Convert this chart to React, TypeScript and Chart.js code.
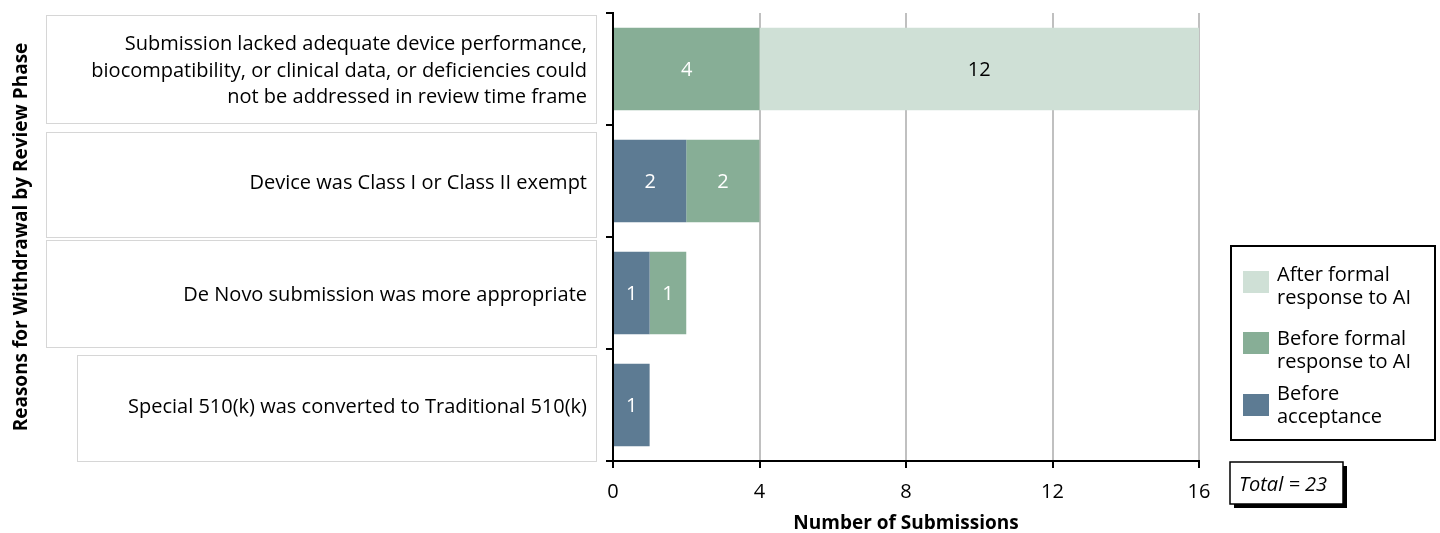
import React, { useEffect, useRef } from "react";
import { Chart, registerables } from "chart.js";

Chart.register(...registerables);

// ---------- data ----------
const categories: string[][] = [
  [
    "Submission lacked adequate device performance,",
    "biocompatibility, or clinical data, or deficiencies could",
    "not be addressed in review time frame",
  ],
  ["Device was Class I or Class II exempt"],
  ["De Novo submission was more appropriate"],
  ["Special 510(k) was converted to Traditional 510(k)"],
];
const seriesNames = [
  "Before acceptance",
  "Before formal response to AI",
  "After formal response to AI",
];
const beforeAcceptance = [0, 2, 1, 1];
const beforeFormalResponse = [4, 2, 1, 0];
const afterFormalResponse = [12, 0, 0, 0];
const legendLines: string[][] = [
  ["Before", "acceptance"],
  ["Before formal", "response to AI"],
  ["After formal", "response to AI"],
];
const xMin = 0;
const xMax = 16;
const xStep = 4;
const xTitle = "Number of Submissions";
const yTitle = "Reasons for Withdrawal by Review Phase";
const totalLabel = "Total = 23";

// ---------- style ----------
const FONT = "'Open Sans'";
const FS = 20;
const TITLE_FS = 19;
const colors = ["#5d7b93", "#87ae96", "#cfe0d6"];
const labelColors = ["#ffffff", "#ffffff", "#000000"];
const boxLeft = [46, 46, 46, 77];
const boxTopInset = [2, 7, 3, 6];
const boxBottomInset = [2, 0, 2, 0];

const overlayPlugin = {
  id: "overlay",
  beforeDraw(chart: any) {
    const { ctx } = chart;
    const y = chart.scales.y;
    const n = chart.data.labels.length;
    ctx.save();
    ctx.strokeStyle = "#d6d6d6";
    ctx.lineWidth = 1;
    const half = (y.getPixelForValue(1) - y.getPixelForValue(0)) / 2;
    for (let i = 0; i < n; i++) {
      const c = y.getPixelForValue(i);
      const top = Math.round(c - half + boxTopInset[i]);
      const bot = Math.round(c + half - boxBottomInset[i]);
      ctx.fillStyle = "#ffffff";
      ctx.fillRect(boxLeft[i] + 0.5, top + 0.5, 596 - boxLeft[i], bot - top);
      ctx.strokeRect(boxLeft[i] + 0.5, top + 0.5, 596 - boxLeft[i], bot - top);
    }
    ctx.restore();
  },
  afterDatasetsDraw(chart: any) {
    const { ctx } = chart;
    ctx.save();
    ctx.font = `${FS}px ${FONT}`;
    ctx.textAlign = "center";
    ctx.textBaseline = "middle";
    chart.data.datasets.forEach((ds: any, di: number) => {
      const meta = chart.getDatasetMeta(di);
      meta.data.forEach((el: any, i: number) => {
        const v = ds.data[i];
        if (!v) return;
        ctx.fillStyle = labelColors[di];
        ctx.fillText(String(v), (el.x + el.base) / 2, el.y + 1);
      });
    });
    ctx.restore();
  },
  afterDraw(chart: any) {
    const { ctx } = chart;
    ctx.save();
    // legend box
    ctx.strokeStyle = "#000";
    ctx.lineWidth = 2;
    ctx.strokeRect(1231, 246, 204, 194);
    const order = [2, 1, 0];
    const swTop = [271, 332, 394];
    const textTop = [275, 339, 394];
    ctx.font = `${FS}px ${FONT}`;
    ctx.textBaseline = "middle";
    ctx.textAlign = "left";
    order.forEach((di, k) => {
      const ds = chart.data.datasets[di];
      ctx.fillStyle = ds.backgroundColor;
      ctx.fillRect(1243, swTop[k], 26, 22);
      ctx.fillStyle = "#000";
      const lines = legendLines[di];
      lines.forEach((t, li) => ctx.fillText(t, 1277, textTop[k] + li * 23));
    });
    // total box with shadow
    ctx.fillStyle = "#000";
    ctx.fillRect(1234, 466, 113, 42);
    ctx.fillStyle = "#fff";
    ctx.fillRect(1230, 462, 113, 42);
    ctx.lineWidth = 1.5;
    ctx.strokeRect(1230, 462, 113, 42);
    ctx.fillStyle = "#000";
    ctx.font = `italic ${FS}px ${FONT}`;
    ctx.fillText(totalLabel, 1239, 485);
    ctx.restore();
  },
};

export default function App() {
  const ref = useRef<HTMLCanvasElement | null>(null);
  useEffect(() => {
    if (!ref.current) return;
    const data = [beforeAcceptance, beforeFormalResponse, afterFormalResponse];
    const chart = new Chart(ref.current, {
      type: "bar",
      data: {
        labels: categories,
        datasets: seriesNames.map((name, i) => ({
          label: name,
          data: data[i],
          backgroundColor: colors[i],
          borderWidth: 0,
          categoryPercentage: 1,
          barPercentage: 0.735,
        })),
      },
      options: {
        indexAxis: "y",
        animation: false,
        responsive: false,
        maintainAspectRatio: false,
        layout: { padding: { left: 0, top: 13, right: 241, bottom: 0 } },
        plugins: {
          legend: { display: false },
          tooltip: { enabled: false },
        },
        scales: {
          x: {
            stacked: true,
            min: xMin,
            max: xMax,
            afterFit: (s: any) => {
              s.height = 72;
              s.paddingLeft = 0;
              s.paddingRight = 0;
            },
            ticks: {
              stepSize: xStep,
              color: "#000",
              padding: 12,
              font: { family: FONT, size: FS },
            },
            grid: {
              color: (c: any) => (c.tick && c.tick.value === 0 ? "rgba(0,0,0,0)" : "#c0c0c0"),
              lineWidth: 2,
              tickColor: "#000",
              tickLength: 7,
            },
            border: { display: true, color: "#000", width: 2 },
            title: {
              display: true,
              text: xTitle,
              color: "#000",
              padding: { top: 0, bottom: -2 },
              font: { family: FONT, size: TITLE_FS, weight: "bold" },
            },
          },
          y: {
            stacked: true,
            afterFit: (s: any) => {
              s.width = 613;
              s.paddingTop = 0;
              s.paddingBottom = 0;
            },
            ticks: {
              color: "#000",
              padding: 19,
              labelOffset: 2,
              font: { family: FONT, size: FS, lineHeight: 1.33 },
            },
            grid: {
              offset: true,
              drawOnChartArea: false,
              tickColor: "#000",
              tickLength: 7,
              lineWidth: 2,
            },
            border: { display: true, color: "#000", width: 2 },
            title: {
              display: true,
              text: yTitle,
              color: "#000",
              padding: { top: 10, bottom: 0 },
              font: { family: FONT, size: TITLE_FS, weight: "bold" },
            },
          },
        },
      },
      plugins: [overlayPlugin],
    } as any);
    return () => chart.destroy();
  }, []);
  return (
    <div style={{ position: "absolute", left: 0, top: 0, width: 1440, height: 533, background: "#fff" }}>
      <canvas ref={ref} width={1440} height={533} style={{ width: 1440, height: 533 }} />
    </div>
  );
}
